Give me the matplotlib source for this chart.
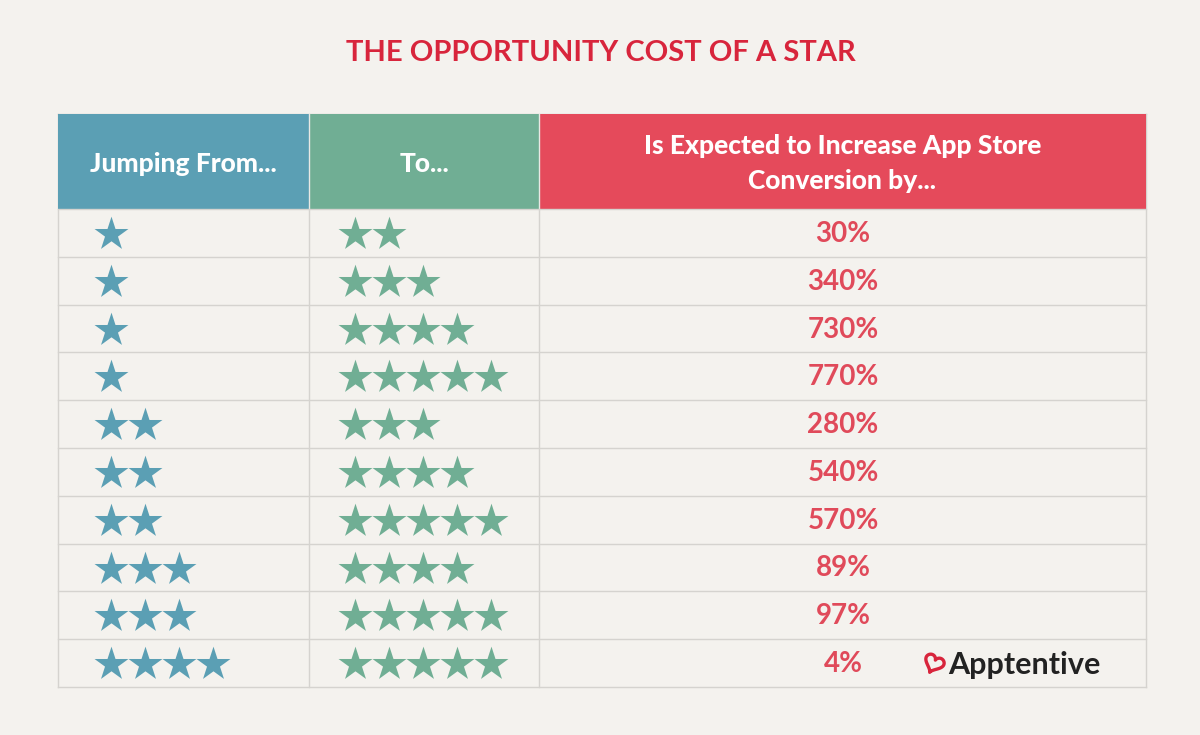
import matplotlib
matplotlib.use("Agg")
from matplotlib import pyplot as plt
from matplotlib.patches import Rectangle
import numpy as np

# table content
title = "THE OPPORTUNITY COST OF A STAR"
headers = ["Jumping From...", "To...", "Is Expected to Increase App Store\nConversion by..."]
stars_from = [1, 1, 1, 1, 2, 2, 2, 3, 3, 4]
stars_to = [2, 3, 4, 5, 3, 4, 5, 4, 5, 5]
increase = ["30%", "340%", "730%", "770%", "280%", "540%", "570%", "89%", "97%", "4%"]

bg = "#f4f2ee"
blue = "#5b9fb4"
green = "#70ae94"
red = "#e54a5b"
title_red = "#d8253c"
val_red = "#e04a5a"
line_col = "#d5d3cf"

plt.rcParams['font.family'] = ['Lato', 'DejaVu Sans']

fig = plt.figure(figsize=(12, 7.35), dpi=100)
fig.patch.set_facecolor(bg)
ax = fig.add_axes([0, 0, 1, 1])
ax.set_xlim(0, 1200)
ax.set_ylim(735, 0)
ax.axis("off")

# geometry (pixels)
col_x = [58, 309, 539, 1146]
head_top, head_bot = 114, 209
row_h = (687 - head_bot) / len(increase)

ax.text(601, 53, title, ha="center", va="center", fontsize=21, fontweight="bold", color=title_red)

# header cells
for i, c in enumerate([blue, green, red]):
    ax.add_patch(Rectangle((col_x[i], head_top), col_x[i + 1] - col_x[i], head_bot - head_top,
                           facecolor=c, edgecolor="none", zorder=1))
    ax.text((col_x[i] + col_x[i + 1]) / 2, (head_top + head_bot) / 2 + 2, headers[i],
            ha="center", va="center", fontsize=19, fontweight="black", color="white",
            linespacing=1.55, zorder=3)
ax.plot([col_x[1], col_x[1]], [head_top, head_bot], color="#e8e8e4", lw=1, zorder=2)
ax.plot([col_x[2], col_x[2]], [head_top, head_bot], color="#e8e8e4", lw=1, zorder=2)

# grid lines
bottom = head_bot + row_h * len(increase)
for r in range(len(increase) + 1):
    y = head_bot + r * row_h
    ax.plot([col_x[0], col_x[-1]], [y, y], color=line_col, lw=1, zorder=2)
for x in col_x:
    ax.plot([x, x], [head_top if x in (col_x[0], col_x[-1]) else head_bot, bottom],
            color=line_col, lw=1, zorder=0)
ax.plot([col_x[0], col_x[-1]], [head_top, head_top], color=line_col, lw=1, zorder=0)

# stars and values
step = 34
for r in range(len(increase)):
    yc = head_bot + (r + 0.5) * row_h + 1
    xs = 111 + step * np.arange(stars_from[r])
    ax.scatter(xs, [yc] * len(xs), marker="*", s=660, color=blue, linewidths=0, zorder=3)
    xs = 355 + step * np.arange(stars_to[r])
    ax.scatter(xs, [yc] * len(xs), marker="*", s=660, color=green, linewidths=0, zorder=3)
    ax.text(843, yc, increase[r], ha="center", va="center", fontsize=20,
            fontweight="bold", color=val_red, zorder=3)

# logo: tilted heart outline + name
yl = head_bot + 9.5 * row_h + 1
t = np.linspace(0.45, 2 * np.pi - 0.15, 120)
hx = 16 * np.sin(t) ** 3
hy = 13 * np.cos(t) - 5 * np.cos(2 * t) - 2 * np.cos(3 * t) - np.cos(4 * t)
ang = np.deg2rad(-25)
rx = hx * np.cos(ang) - hy * np.sin(ang)
ry = hx * np.sin(ang) + hy * np.cos(ang)
ax.plot(934 + rx * 0.6, yl - 1 - ry * 0.6, color=title_red, lw=2.4, solid_capstyle="round", zorder=3)
ax.text(948, yl + 1, "Apptentive", ha="left", va="center", fontsize=22,
        fontweight="bold", color="#222222")

fig.savefig("out.png", dpi=100, facecolor=bg)
